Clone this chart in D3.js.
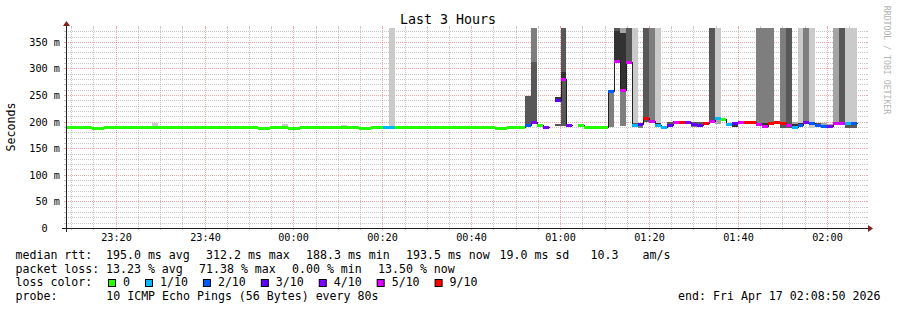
<!DOCTYPE html>
<html><head><meta charset="utf-8">
<script src="https://cdn.jsdelivr.net/npm/d3@7"></script>
<style>
html,body{margin:0;padding:0;background:#fff;}
svg{display:block;}
text{font-family:"DejaVu Sans Mono",monospace;fill:#000;white-space:pre;}
</style></head><body>
<svg id="c" width="897" height="310"></svg>
<script>
// ---------- data ----------
const title = "Last 3 Hours";
const endTime = "2026-04-17T02:08:50";
const spanHours = 3;
const firstStep = "2026-04-16T23:08:06";
const stepSeconds = 80;
const yMax = 376;   // ms, top of the plot
const yTickValues = [0, 50, 100, 150, 200, 250, 300, 350];
const yTickLabels = ["0\u00a0\u00a0", "50 m", "100 m", "150 m", "200 m", "250 m", "300 m", "350 m"];

// median rtt per 80 s step (ms); null = no data
const median = [
  190,190,190,190,190,188,188,190,190,190,
  190,190,190,190,190,190,190,190,190,190,
  190,190,190,190,190,190,190,190,190,190,
  190,190,190,188,188,190,190,190,188,188,
  190,190,190,190,190,190,190,190,190,190,
  188,188,190,190,190,190,190,190,190,190,
  190,190,190,190,190,190,190,190,190,190,
  190,190,190,188,188,190,190,190,194,200,
  194,190,null,240,281,194,null,193,190,190,
  190,190,257,314,259,313,194,196,207,201,
  193,190,194,199,199,199,196,193,198,201,
  207,205,195,198,199,199,199,196,192,198,
  199,197,194,190,193,199,198,193,191,192,
  197,197,197,197,null,null
];
// lost pings out of 10 per step
const loss = [
  0,0,0,0,0,0,0,0,0,0,
  0,0,0,0,0,0,0,0,0,0,
  0,0,0,0,0,0,0,0,0,0,
  0,0,0,0,0,0,0,0,0,0,
  0,0,0,0,0,0,0,0,0,0,
  0,0,0,0,1,1,0,0,0,0,
  0,0,0,0,0,0,0,0,0,0,
  0,0,0,0,0,0,0,0,2,4,
  0,4,null,3,5,4,null,0,0,0,
  0,0,2,5,5,5,1,3,9,5,
  1,1,3,5,9,4,3,3,9,5,
  1,0,1,3,5,9,9,5,5,9,
  9,9,5,1,2,4,2,2,2,4,
  5,5,1,2,null,null
];
// smoke bands: [step, low ms, high ms, ping pair (1 = outermost)]
const smoke = [
  [15,189,197,1],[37,189,195,1],[47,189,194,1],[55,189,400,1],
  [78,193,248,4],
  [79,199,312,4],[79,312,400,3],
  [83,239,246,5],[83,192,196,4],
  [84,192,400,4],[84,282,294,5],
  [92,189,256,3],
  [93,313,371,5],[93,371,400,4],
  [94,192,258,3],[94,258,366,5],[94,366,400,2],
  [95,312,400,4],
  [96,195,400,1],[96,194,197.5,4],
  [97,188,192,3],
  [98,199,400,4],
  [99,200,400,3],
  [100,196,400,1],[100,194.5,197,5],
  [102,195,200,4],
  [106,197,200,4],[106,189,192.5,3],
  [107,194,200,4],
  [109,200,400,4],
  [110,206,400,1],[110,196,206,2],
  [113,189,194,5],
  [117,197,400,3],
  [118,198,400,3],[118,194,198,5],
  [119,198,400,3],
  [121,198,400,3],[121,188,194,4],
  [122,188,400,4],
  [123,195,199.5,2],[123,191.5,195,5],
  [124,197,400,1],[124,194,197,5],
  [125,199,400,3],
  [126,188,400,1],
  [127,194,197,4],
  [128,192,197,2],
  [129,193,196,2],
  [130,196,400,2],
  [131,196,400,4],
  [132,196,400,1],[132,188,194,4],
  [133,196,400,1],[133,188,194,4]
];
const lossThresholds = [0, 1, 2, 3, 4, 5, 10];
const lossLabels = ["0", "1/10", "2/10", "3/10", "4/10", "5/10", "9/10"];
const lossColors = ["#26ff00", "#00b8ff", "#0059ff", "#5e00ff", "#7e00ff", "#dd00ff", "#ff0000"];
const smokeShades = ["#cacaca", "#a4a4a4", "#7e7e7e", "#585858", "#323232"];

const rttItems = ["median rtt:", "195.0 ms avg", "312.2 ms max", "188.3 ms min", "193.5 ms now", "19.0 ms sd", "10.3", "am/s"];
const lossItems = ["packet loss:", "13.23 % avg", "71.38 % max", "0.00 % min", "13.50 % now"];
const colorLine = "loss color:";
const probeLine = "probe:       10 ICMP Echo Pings (56 Bytes) every 80s";
const endLine = "end: Fri Apr 17 02:08:50 2026";
const yTitle = "Seconds";
const watermark = "RRDTOOL / TOBI OETIKER";

// ---------- layout ----------
const X0 = 66, X1 = 866, Y0 = 228, Y1 = 28;
const rttX = [15.5, 106, 206, 306, 406, 499.5, 590.5, 642.5];
const lossX = [15.5, 106, 199, 292, 378];
const svg = d3.select("#c");
const parseT = d3.timeParse("%Y-%m-%dT%H:%M:%S");
const tEnd = parseT(endTime);
const tStart = d3.timeHour.offset(tEnd, -spanHours);
const t0 = parseT(firstStep);
const x = d3.scaleTime().domain([tStart, tEnd]).range([X0, X1]);
const y = d3.scaleLinear().domain([0, yMax]).range([Y0, Y1]);
const stepT = k => d3.timeSecond.offset(t0, k * stepSeconds);
const sx = k => Math.round(x(stepT(k)));
const sy = v => Math.round(y(v));
const GRID = "rgba(143,143,143,0.5)", MGRID = "rgba(222,79,79,0.5)";

svg.append("defs").append("clipPath").attr("id", "plot")
  .append("rect").attr("x", X0).attr("y", Y1).attr("width", X1 - X0).attr("height", Y0 - Y1);

// grid
const g = svg.append("g").attr("shape-rendering", "crispEdges");
const minorT = x.ticks(d3.timeMinute.every(5));
const majorT = x.ticks(d3.timeMinute.every(20));
const isMajorT = t => t.getMinutes() % 20 === 0;
function vline(xx, col, tick) {
  g.append("line").attr("x1", xx).attr("x2", xx).attr("y1", Y1).attr("y2", Y0)
    .attr("stroke", col).attr("stroke-dasharray", "1,1");
  g.append("line").attr("x1", xx).attr("x2", xx).attr("y1", Y0).attr("y2", Y0 + tick).attr("stroke", col);
  g.append("line").attr("x1", xx).attr("x2", xx).attr("y1", Y1 - tick).attr("y2", Y1).attr("stroke", col);
}
function hline(yy, col, tick) {
  g.append("line").attr("x1", X0).attr("x2", X1).attr("y1", yy).attr("y2", yy)
    .attr("stroke", col).attr("stroke-dasharray", "1,1");
  g.append("line").attr("x1", X0 - tick).attr("x2", X0).attr("y1", yy).attr("y2", yy).attr("stroke", col);
  g.append("line").attr("x1", X1).attr("x2", X1 + tick).attr("y1", yy).attr("y2", yy).attr("stroke", col);
}
minorT.filter(t => !isMajorT(t)).forEach(t => vline(Math.round(x(t)) + 0.5, GRID, 2));
y.ticks(yMax / 10).filter(v => v > 0 && v % 50 !== 0).forEach(v => hline(sy(v) + 0.5, GRID, 2));
majorT.forEach(t => vline(Math.round(x(t)) + 0.5, MGRID, 2));
yTickValues.filter(v => v > 0).forEach(v => hline(sy(v) + 0.5, MGRID, 2));

// data layer
const plot = svg.append("g").attr("clip-path", "url(#plot)").attr("shape-rendering", "crispEdges");
const bands = smoke.slice().sort((a, b) => a[3] - b[3]);
plot.selectAll("rect.smoke").data(bands).join("rect").attr("class", "smoke")
  .attr("x", d => sx(d[0])).attr("width", d => sx(d[0] + 1) - sx(d[0]))
  .attr("y", d => sy(Math.min(d[2], yMax + 5)))
  .attr("height", d => sy(d[1]) - sy(Math.min(d[2], yMax + 5)))
  .attr("fill", d => smokeShades[d[3] - 1]);

// black median step line
const pts = [];
median.forEach((m, k) => {
  if (m == null) { pts.push({ x: 0, y: null }); return; }
  pts.push({ x: sx(k) + 0.5, y: sy(m) + 0.5 });
  pts.push({ x: sx(k + 1) + 0.5, y: sy(m) + 0.5 });
});
plot.append("path")
  .attr("d", d3.line().defined(d => d.y != null).x(d => d.x).y(d => d.y)(pts))
  .attr("fill", "none").attr("stroke", "#202020").attr("stroke-width", 1);

// coloured median bars by loss
const colorFor = l => lossColors[lossThresholds.findIndex(t => t >= l)];
const medData = median.map((m, k) => ({ k, m, l: loss[k] })).filter(d => d.m != null);
plot.selectAll("rect.med").data(medData).join("rect").attr("class", "med")
  .attr("x", d => sx(d.k)).attr("width", d => sx(d.k + 1) - sx(d.k))
  .attr("y", d => sy(d.m) - 1).attr("height", 3)
  .attr("fill", d => colorFor(d.l));

// axes
const ax = svg.append("g");
ax.append("line").attr("x1", X0 - 4).attr("x2", X1 + 4).attr("y1", Y0 + 0.5).attr("y2", Y0 + 0.5).attr("stroke", "#1f1f1f");
ax.append("line").attr("x1", X0 + 0.5).attr("x2", X0 + 0.5).attr("y1", Y0 + 4).attr("y2", Y1 - 4).attr("stroke", "#1f1f1f");
ax.append("path").attr("d", `M${X1 + 2},${Y0 - 3}L${X1 + 2},${Y0 + 4}L${X1 + 7},${Y0 + 0.5}Z`).attr("fill", "#801f1f");
ax.append("path").attr("d", `M${X0 - 3},${Y1 - 2}L${X0 + 4},${Y1 - 2}L${X0 + 0.5},${Y1 - 7}Z`).attr("fill", "#801f1f");

// tick labels
const fmt = d3.timeFormat("%H:%M");
svg.append("g").selectAll("text").data(majorT).join("text")
  .attr("x", d => Math.round(x(d)) + 0.5).attr("y", 241).attr("text-anchor", "middle")
  .attr("font-size", "10.2px").text(d => fmt(d));
svg.append("g").selectAll("text").data(yTickValues).join("text")
  .attr("x", 60).attr("y", d => sy(d) + 4).attr("text-anchor", "end")
  .attr("font-size", "10.2px").text((d, i) => yTickLabels[i]);

// title, axis title, watermark
svg.append("text").attr("x", 448).attr("y", 24).attr("text-anchor", "middle").attr("font-size", "13.3px").text(title);
svg.append("text").attr("transform", "translate(15,127) rotate(-90)").attr("text-anchor", "middle")
  .attr("font-size", "11.6px").text(yTitle);
svg.append("text").attr("transform", "translate(884,60) rotate(90)").attr("text-anchor", "middle")
  .attr("font-size", "8.2px").style("fill", "#b3b3b3").text(watermark);

// legend
const LF = "11.6px";
rttItems.forEach((s, i) => svg.append("text").attr("x", rttX[i]).attr("y", 259).attr("font-size", LF).text(s));
lossItems.forEach((s, i) => svg.append("text").attr("x", lossX[i]).attr("y", 272.5).attr("font-size", LF).text(s));
svg.append("text").attr("x", 15.5).attr("y", 286).attr("font-size", LF).text(colorLine);
svg.append("text").attr("x", 15.5).attr("y", 299.5).attr("font-size", LF).text(probeLine);
svg.append("text").attr("x", 880.5).attr("y", 299.5).attr("text-anchor", "end").attr("font-size", LF).text(endLine);
let bx = 108;
lossLabels.forEach((lab, i) => {
  svg.append("rect").attr("x", bx + 0.5).attr("y", 279.5).attr("width", 7).attr("height", 7)
    .attr("fill", lossColors[i]).attr("stroke", "#000").attr("stroke-width", 1);
  const t = svg.append("text").attr("x", bx + 15).attr("y", 286).attr("font-size", LF).text(lab);
  bx = bx + 15 + t.node().getComputedTextLength() + 15;
});
</script>
</body></html>
